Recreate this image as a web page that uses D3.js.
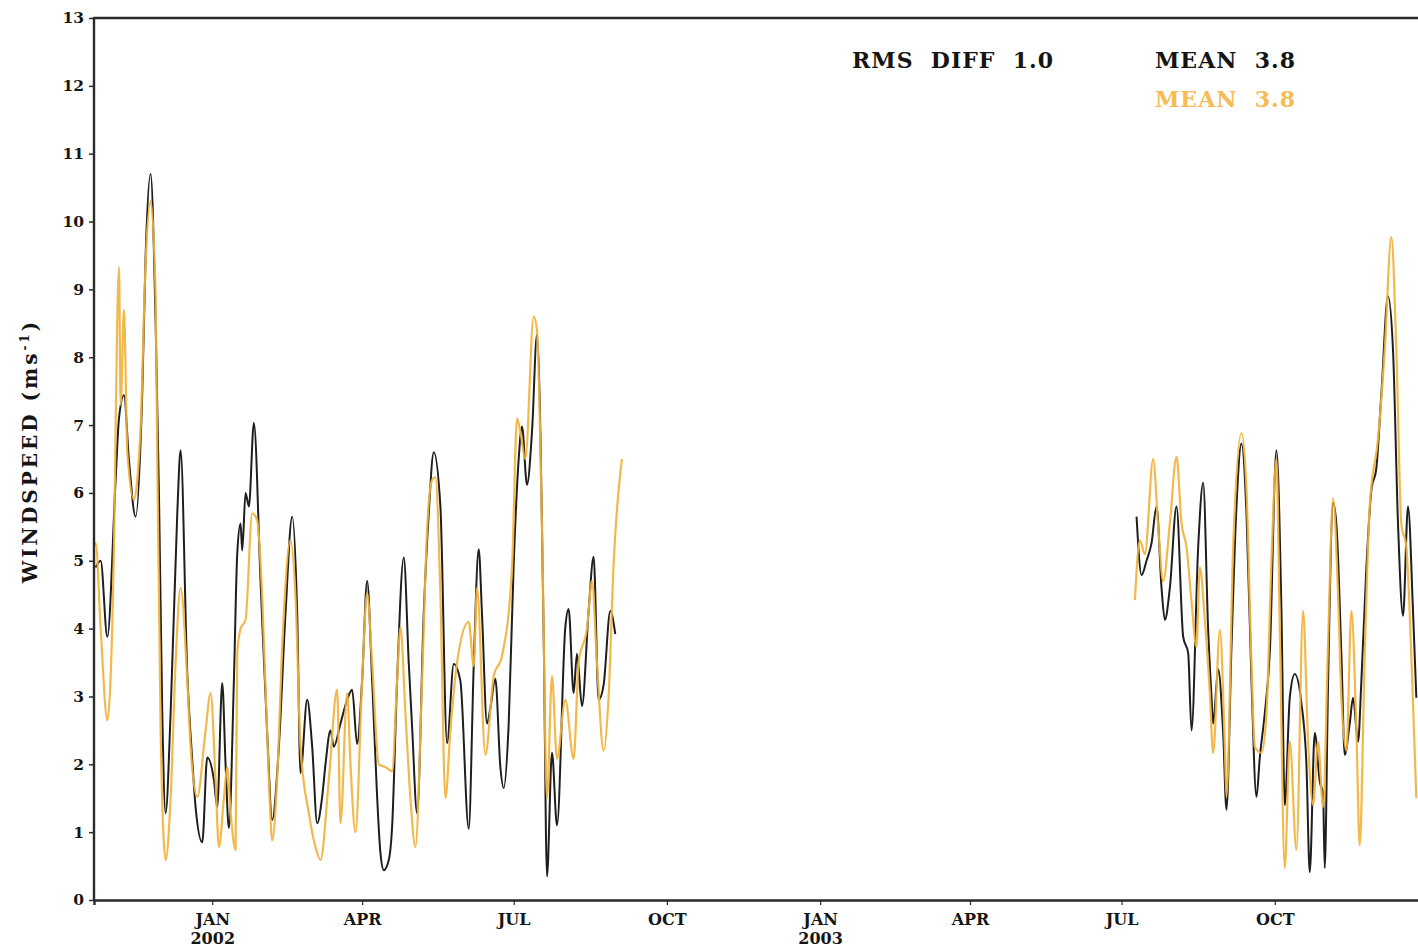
<!DOCTYPE html>
<html>
<head>
<meta charset="utf-8">
<script src="https://cdn.jsdelivr.net/npm/d3@7"></script>
<style>
  html, body { margin: 0; padding: 0; background: #fff; }
  svg { display: block; }
  text { font-family: "DejaVu Serif", "Liberation Serif", serif; font-weight: bold; }
</style>
</head>
<body>
<svg id="chart" width="1418" height="950"></svg>
<script>
// Daily wind speed (m/s); day numbers count from 1 Jan 2002. null marks a data gap.
const observed = [
  [-70,4.9],[-67,5.0],[-63,3.88],[-58,6.2],[-56,7.1],[-53,7.44],[-50,6.48],[-46,5.65],
  [-42,7.5],[-40,9.5],[-37,10.7],[-34,8.5],[-32,6.0],[-30,2.75],[-28,1.28],[-25,2.75],
  [-21,5.7],[-19,6.63],[-15,3.35],[-12,2.06],[-10,1.37],[-6,0.85],[-3,2.1],[1,1.77],
  [3,1.37],[6,3.2],[8,2.0],[10,1.06],[13,3.24],[15,5.1],[17,5.55],[18,5.15],[20,6.0],
  [22,5.8],[25,7.03],[29,4.7],[33,2.46],[36,1.18],[40,2.26],[44,4.23],[48,5.65],[51,4.23],
  [53,1.87],[57,2.95],[60,2.26],[63,1.13],[66,1.52],[68,2.0],[71,2.5],[73,2.26],[77,2.6],
  [81,2.95],[84,3.1],[87,2.3],[90,3.24],[93,4.7],[96,3.24],[99,1.52],[101,0.69],[103,0.44],
  [106,0.59],[108,1.08],[111,3.24],[115,5.05],[118,3.49],[120,2.55],[123,1.28],[127,4.23],
  [130,5.7],[133,6.6],[137,5.8],[141,2.31],[145,3.48],[149,3.23],[154,1.05],[157,3.45],
  [160,5.17],[162,4.2],[165,2.6],[167,2.83],[170,3.26],[173,1.96],[175,1.65],[178,2.6],
  [181,4.95],[184,6.5],[186,6.98],[189,6.12],[192,6.9],[195,8.33],[199,3.92],[201,0.35],
  [204,2.17],[207,1.1],[212,4.02],[214,4.29],[217,3.05],[219,3.63],[222,2.86],[226,4.26],
  [229,5.06],[232,2.95],[235,3.17],[239,4.26],[242,3.92],
  [243,null],
  [555,5.65],[558,4.79],[561,5.0],[564,5.26],[567,5.8],[570,4.6],[572,4.13],[575,4.6],
  [579,5.8],[583,3.88],[586,3.64],[588,2.5],[592,5.2],[595,6.15],[598,3.98],[600,3.0],
  [601,2.6],[604,3.4],[607,2.46],[609,1.33],[612,3.73],[615,5.8],[618,6.73],[621,5.7],
  [624,3.24],[627,1.52],[629,2.1],[632,2.75],[635,3.64],[639,6.63],[642,4.26],[644,1.4],
  [647,2.98],[650,3.33],[654,2.9],[657,2.0],[659,0.41],[662,2.46],[665,1.75],[667,1.56],
  [668,0.47],[670,3.2],[673,5.85],[675,5.54],[678,3.61],[680,2.14],[683,2.6],[685,2.98],
  [688,2.33],[690,3.23],[693,4.9],[696,6.04],[699,6.37],[702,7.46],[706,8.9],[709,8.1],
  [712,5.54],[715,4.19],[718,5.8],[721,4.26],[723,2.98]
];

const modelled = [
  [-71,5.2],[-70,5.26],[-67,4.0],[-63,2.65],[-59,5.2],[-58,7.0],[-56,9.33],[-55,7.3],
  [-53,8.7],[-51,6.6],[-47,5.9],[-45,6.2],[-43,6.97],[-40,9.4],[-37,10.3],[-34,8.9],
  [-33,6.5],[-31,2.5],[-28,0.59],[-25,1.5],[-22,3.5],[-19,4.6],[-15,3.24],[-13,2.26],
  [-9,1.52],[-4,2.5],[-1,3.05],[2,1.77],[4,0.78],[7,1.5],[9,1.96],[11,1.3],[14,0.74],
  [15,3.64],[17,4.0],[20,4.13],[24,5.7],[27,5.6],[30,4.47],[34,1.77],[36,0.88],[39,1.8],
  [42,3.73],[47,5.3],[50,4.47],[53,2.26],[58,1.28],[62,0.78],[65,0.59],[70,1.77],[75,3.1],
  [77,1.13],[81,3.05],[83,2.0],[86,1.0],[90,3.24],[93,4.52],[96,3.5],[100,2.0],[104,1.96],
  [108,1.9],[111,3.24],[113,4.02],[116,2.75],[119,1.5],[122,0.78],[126,3.24],[129,5.45],
  [132,6.19],[134,6.23],[137,4.5],[140,1.5],[143,2.5],[147,3.5],[154,4.1],[157,3.45],
  [159,4.6],[164,2.14],[169,3.3],[174,3.6],[180,4.9],[183,7.1],[185,6.9],[188,6.5],
  [193,8.6],[195,8.4],[198,5.5],[201,1.5],[204,3.3],[207,2.08],[212,2.95],[217,2.08],
  [220,3.5],[225,4.0],[228,4.7],[231,3.5],[235,2.2],[238,3.0],[241,4.95],[246,6.5],
  [247,null],
  [554,4.42],[557,5.3],[560,5.1],[565,6.5],[568,5.5],[571,4.7],[575,5.55],[579,6.53],
  [582,5.55],[585,5.2],[588,4.4],[591,3.73],[593,4.9],[596,4.13],[599,3.05],[601,2.17],
  [605,3.98],[608,2.26],[609,1.52],[613,5.2],[618,6.88],[621,6.05],[624,3.49],[626,2.26],
  [630,2.17],[633,2.75],[636,5.0],[639,6.5],[641,4.0],[644,0.47],[647,2.33],[651,0.74],
  [655,4.26],[658,2.33],[661,1.4],[664,2.33],[667,1.37],[670,3.8],[673,5.92],[676,4.5],
  [678,2.98],[681,2.2],[684,4.26],[687,2.5],[689,0.8],[692,3.6],[695,5.8],[700,6.8],
  [704,8.1],[708,9.77],[711,8.1],[714,5.54],[717,5.2],[720,3.6],[723,1.5]
];

// Axis ticks: first day of each quarter, with month / year labels
const tickDays = [0, 90, 181, 273, 365, 455, 546, 638];
const tickLabels = [["JAN","2002"],["APR"],["JUL"],["OCT"],["JAN","2003"],["APR"],["JUL"],["OCT"]];
const yTicks = [0,1,2,3,4,5,6,7,8,9,10,11,12,13];

// Summary statistics printed in the upper right
const statsText = { rms: "RMS  DIFF  1.0", meanObs: "MEAN  3.8", meanMod: "MEAN  3.8" };

const baseDate = new Date(2002, 0, 1);
const toDate = d => d3.timeDay.offset(baseDate, d);

const svg = d3.select("#chart");
const plot = { left: 94, top: 18, bottom: 900, right: 1428 };

const x = d3.scaleTime()
  .domain([new Date(2001, 9, 22), new Date(2004, 0, 1)])
  .range([plot.left, plot.right]);
const y = d3.scaleLinear().domain([0, 13]).range([plot.bottom, plot.top]);

const colObs = "#1e1e1e";
const colMod = "#f2b23c";
const colModText = "#f6bb55";
const textCol = "#151515";

// Series lines
const line = d3.line()
  .defined(d => d[1] !== null)
  .x(d => x(toDate(d[0])))
  .y(d => y(d[1]))
  .curve(d3.curveMonotoneX);

svg.append("defs").append("clipPath").attr("id", "plotClip")
  .append("rect").attr("x", plot.left).attr("y", plot.top)
  .attr("width", plot.right - plot.left).attr("height", plot.bottom - plot.top);

const g = svg.append("g").attr("clip-path", "url(#plotClip)");
g.append("path").datum(observed)
  .attr("d", line).attr("fill", "none")
  .attr("stroke", colObs).attr("stroke-width", 2).attr("stroke-linejoin", "round");
g.append("path").datum(modelled)
  .attr("d", line).attr("fill", "none")
  .attr("stroke", colMod).attr("stroke-width", 2.2).attr("stroke-linejoin", "round")
  .attr("opacity", 0.92);

// Frame
const frameCol = "#2a2a2a";
svg.append("line").attr("x1", plot.left).attr("x2", plot.left)
  .attr("y1", plot.top - 1).attr("y2", plot.bottom + 1)
  .attr("stroke", frameCol).attr("stroke-width", 2.4);
svg.append("line").attr("x1", plot.left).attr("x2", 1418)
  .attr("y1", plot.top).attr("y2", plot.top)
  .attr("stroke", frameCol).attr("stroke-width", 2.4);

// Y axis
const yAxis = d3.axisLeft(y).tickValues(yTicks).tickSize(5).tickPadding(5).tickFormat(d3.format("d"));
const gy = svg.append("g").attr("transform", `translate(${plot.left},0)`).call(yAxis);
gy.select(".domain").remove();
gy.selectAll(".tick line").attr("stroke", frameCol).attr("stroke-width", 1.5);
gy.selectAll(".tick text")
  .style("font-family", '"DejaVu Serif", serif').style("font-weight", "bold")
  .style("font-size", "15.5px").style("fill", textCol);

// X axis
const xAxis = d3.axisBottom(x).tickValues(tickDays.map(toDate)).tickSize(5).tickFormat("");
const gx = svg.append("g").attr("transform", `translate(0,${plot.bottom})`).call(xAxis);
gx.select(".domain").attr("stroke", frameCol).attr("stroke-width", 2.4);
gx.selectAll(".tick line").attr("stroke", frameCol).attr("stroke-width", 1.2);
gx.selectAll(".tick").each(function(d, i) {
  const t = d3.select(this).append("text")
    .attr("text-anchor", "middle")
    .style("font-size", "16px").style("fill", textCol);
  tickLabels[i].forEach((s, j) => {
    t.append("tspan").attr("x", 0).attr("y", 25 + j * 19).text(s);
  });
});

// Y axis title
const yt = svg.append("text")
  .attr("transform", "translate(37,451) rotate(-90)")
  .attr("text-anchor", "middle")
  .style("font-size", "20px").style("letter-spacing", "3px").style("fill", textCol);
yt.append("tspan").text("WINDSPEED (ms");
yt.append("tspan").attr("dy", -8).style("font-size", "12px").text("-1");
yt.append("tspan").attr("dy", 8).text(")");

// Stats text
function statText(str, xPos, yPos, color, width) {
  svg.append("text").attr("x", xPos).attr("y", yPos)
    .style("fill", color).style("font-size", "22px")
    .style("white-space", "pre")
    .attr("textLength", width).attr("lengthAdjust", "spacing")
    .text(str);
}
statText(statsText.rms, 852, 68, textCol, 201);
statText(statsText.meanObs, 1155, 68, textCol, 140);
statText(statsText.meanMod, 1155, 107, colModText, 140);
</script>
</body>
</html>
